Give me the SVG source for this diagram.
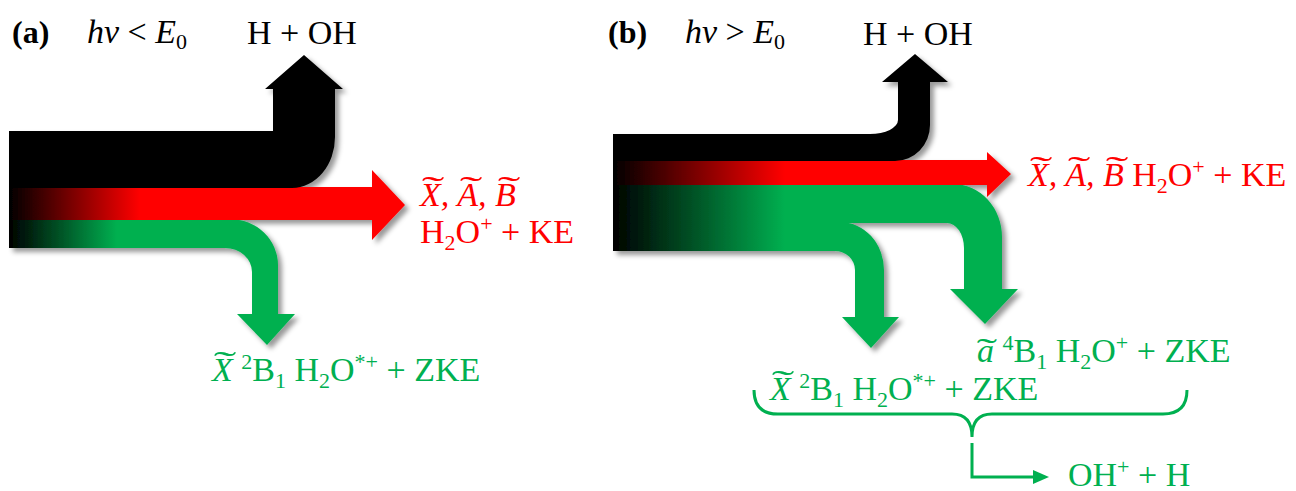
<svg xmlns="http://www.w3.org/2000/svg" width="1296" height="491" viewBox="0 0 1296 491" font-family="'Liberation Serif', 'Times New Roman', serif">
<style>
text{font-family:"Liberation Serif","Times New Roman",serif;font-size:34px;}
.b{font-weight:bold;font-size:32px;}
.i{font-style:italic;}
.s{font-size:22px;}
.red{fill:#FF0000;}
.grn{fill:#00B050;}
.tl{font-size:34px;text-anchor:middle;}
.conn{fill:none;stroke:#00B050;stroke-width:3;}
</style>
<defs>
<filter id="sh" x="-10%" y="-10%" width="130%" height="130%">
<feDropShadow dx="4" dy="4" stdDeviation="2.5" flood-color="#000" flood-opacity="0.4"/>
</filter>
<linearGradient id="gRa" gradientUnits="userSpaceOnUse" x1="9" y1="0" x2="140" y2="0">
<stop offset="0" stop-color="#000"/><stop offset="1" stop-color="#FF0000"/>
</linearGradient>
<linearGradient id="gGa" gradientUnits="userSpaceOnUse" x1="9" y1="0" x2="117" y2="0">
<stop offset="0" stop-color="#000"/><stop offset="1" stop-color="#00B050"/>
</linearGradient>
<linearGradient id="gRb" gradientUnits="userSpaceOnUse" x1="613" y1="0" x2="785" y2="0">
<stop offset="0" stop-color="#000"/><stop offset="1" stop-color="#FF0000"/>
</linearGradient>
<linearGradient id="gGb" gradientUnits="userSpaceOnUse" x1="613" y1="0" x2="785" y2="0">
<stop offset="0" stop-color="#000"/><stop offset="1" stop-color="#00B050"/>
</linearGradient>
</defs>

<!-- panel (a) arrows -->
<g id="panel-a-arrows" filter="url(#sh)">
<g id="a-green"><path fill="url(#gGa)" d="M9,219 H230 A48,46 0 0 1 278,265 V314 H295 L267,345 L237,314 H252 V272 A27,24 0 0 0 225,248 H9 Z"/></g>
<g id="a-red"><path fill="url(#gRa)" d="M9,187 H372 V170 L405,205 L372,240 V220 H9 Z"/></g>
<g id="a-black"><path fill="#000" d="M9,131 H273 V89 H265 L304,55 L343,89 H335 V137 A43,51 0 0 1 292,188 H9 Z"/></g>
</g>

<!-- panel (b) arrows -->
<g id="panel-b-arrows" filter="url(#sh)">
<g id="b-green-upper"><path fill="url(#gGb)" d="M613,184 H953 A49,53 0 0 1 1002,237 V289 H1018 L985,324 L950,289 H964 V248 A17,25 0 0 0 947,223 H613 Z"/></g>
<g id="b-green-lower"><path fill="url(#gGb)" d="M613,222 H840 A44,48 0 0 1 884,270 V317 H899 L871,348 L842,317 H855 V270 A20,19 0 0 0 835,251 H613 Z"/></g>
<g id="b-red"><path fill="url(#gRb)" d="M613,160 H987 V152 L1011,174 L987,197 V185 H613 Z"/></g>
<g id="b-black"><path fill="#000" d="M613,134 H870 A28,14 0 0 0 898,120 V82 H882 L915,54 L948,82 H930 V125 A35,36 0 0 1 895,161 H613 Z"/></g>
</g>

<!-- panel (a) labels -->
<g id="a-title">
<text class="b" x="12" y="43">(a)</text>
<text x="87" y="43"><tspan class="i">hv</tspan> &lt; <tspan class="i">E</tspan><tspan class="s" dy="6">0</tspan></text>
</g>
<g id="a-black-label"><text x="247" y="44">H + OH</text></g>
<g id="a-red-label" class="red">
<text class="i" x="420" y="206">X, A, B</text>
<text class="tl" transform="translate(433,200) scale(2,1)">˜</text>
<text class="tl" transform="translate(471,200) scale(2,1)">˜</text>
<text class="tl" transform="translate(509,200) scale(2,1)">˜</text>
<text x="420" y="243">H<tspan class="s" dy="7">2</tspan><tspan dy="-7">O</tspan><tspan class="s" dy="-12">+</tspan><tspan dy="12"> + KE</tspan></text>
</g>
<g id="a-green-label" class="grn">
<text x="212" y="381"><tspan class="i">X</tspan> <tspan class="s" dy="-12">2</tspan><tspan dy="12">B</tspan><tspan class="s" dy="7">1</tspan><tspan dy="-7"> H</tspan><tspan class="s" dy="7">2</tspan><tspan dy="-7">O</tspan><tspan class="s" dy="-12">*+</tspan><tspan dy="12"> + ZKE</tspan></text>
<text class="tl" transform="translate(225,375) scale(2,1)">˜</text>
</g>

<!-- panel (b) labels -->
<g id="b-title">
<text class="b" x="608" y="43">(b)</text>
<text x="685" y="43"><tspan class="i">hv</tspan> &gt; <tspan class="i">E</tspan><tspan class="s" dy="6">0</tspan></text>
</g>
<g id="b-black-label"><text x="863" y="45">H + OH</text></g>
<g id="b-red-label" class="red">
<text x="1028" y="186"><tspan class="i">X, A, B</tspan> H<tspan class="s" dy="7">2</tspan><tspan dy="-7">O</tspan><tspan class="s" dy="-12">+</tspan><tspan dy="12"> + KE</tspan></text>
<text class="tl" transform="translate(1041,180) scale(2,1)">˜</text>
<text class="tl" transform="translate(1079,180) scale(2,1)">˜</text>
<text class="tl" transform="translate(1117,180) scale(2,1)">˜</text>
</g>
<g id="b-green-a-label" class="grn">
<text x="977" y="362"><tspan class="i">a</tspan> <tspan class="s" dy="-12">4</tspan><tspan dy="12">B</tspan><tspan class="s" dy="7">1</tspan><tspan dy="-7"> H</tspan><tspan class="s" dy="7">2</tspan><tspan dy="-7">O</tspan><tspan class="s" dy="-12">+</tspan><tspan dy="12"> + ZKE</tspan></text>
<text class="tl" transform="translate(987,362) scale(1.8,1)">˜</text>
</g>
<g id="b-green-x-label" class="grn">
<text x="770" y="400"><tspan class="i">X</tspan> <tspan class="s" dy="-12">2</tspan><tspan dy="12">B</tspan><tspan class="s" dy="7">1</tspan><tspan dy="-7"> H</tspan><tspan class="s" dy="7">2</tspan><tspan dy="-7">O</tspan><tspan class="s" dy="-12">*+</tspan><tspan dy="12"> + ZKE</tspan></text>
<text class="tl" transform="translate(783,394) scale(2,1)">˜</text>
</g>
<g id="b-product-label" class="grn">
<text x="1068" y="486">OH<tspan class="s" dy="-12">+</tspan><tspan dy="12"> + H</tspan></text>
</g>

<!-- connectors -->
<g id="connectors">
<path class="conn" d="M754,390 Q754,414 778,414 L952,414 Q972,414 972,437 Q972,414 992,414 L1163,414 Q1187,414 1187,390"/>
<path class="conn" d="M972,443 V477 H1036"/>
<polygon fill="#00B050" points="1033,470 1049,477 1033,484"/>
</g>
</svg>
